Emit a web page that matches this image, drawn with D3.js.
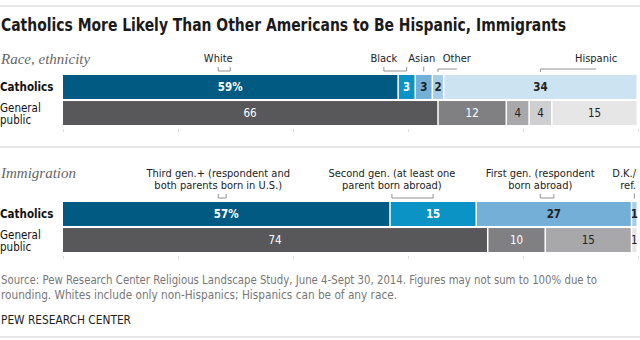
<!DOCTYPE html>
<html lang="en">
<head>
<meta charset="UTF-8">
<title>Catholics More Likely Than Other Americans to Be Hispanic, Immigrants</title>
<style>
  body { margin: 0; background: #fff; }
  svg text { font-family: "Liberation Sans Narrow", "DejaVu Sans Condensed", "Arial Narrow", sans-serif; }
  .title { font-size: 17.5px; font-weight: bold; fill: #1a1a1a; }
  .section { font-family: "Liberation Serif", "DejaVu Serif", Georgia, serif !important; font-style: italic; font-size: 15px; fill: #666; }
  .cat-label { font-size: 11px; fill: #222; }
  .row-label { font-size: 11.5px; fill: #111; }
  .val { font-size: 11.5px; }
  .note { font-size: 12px; fill: #777; }
  .brand { font-size: 12px; fill: #222; }
  .rule { stroke: #cfcfcf; stroke-width: 1.2; }
  .connector { fill: none; stroke: #777; stroke-width: 0.8; }
  .ticks .tick line { stroke: #ddd; }
  .ticks .domain { display: none; }
</style>
</head>
<body>
<div id="chart"></div>
<script src="https://cdnjs.cloudflare.com/ajax/libs/d3/7.8.5/d3.min.js"></script>
<script>
// rows
var rowNames = ["Catholics", "General public"];

// race, ethnicity (percent)
var raceCats = ["White", "Black", "Asian", "Other", "Hispanic"];
var raceCatholics = [59, 3, 3, 2, 34];
var raceGeneral = [66, 12, 4, 4, 15];
var raceLabelAt = [27, 55.8, 62.4, 68.5, 92.7]; // label anchors, percent units

// immigration (percent)
var immCats = [
  ["Third gen.+ (respondent and", "both parents born in U.S.)"],
  ["Second gen. (at least one", "parent born abroad)"],
  ["First gen. (respondent", "born abroad)"],
  ["D.K./", "ref."]
];
var immCatholics = [57, 15, 27, 1];
var immGeneral = [74, 10, 15, 1];
var immLabelAt = [27, 57.2, 83, 99.6];

var axisTicks = [0, 20, 40, 60, 80, 100];

var blues = ["#005a82", "#0a93c4", "#74afd7", "#a5cde8", "#cce3f2"];
var grays = ["#58585a", "#808083", "#a8a8aa", "#cfcfd1", "#e6e6e6"];
var darkFills = ["#005a82", "#0a93c4", "#58585a", "#808083"];

var width = 640, height = 340;
var left = 63, right = 638;

var svg = d3.select("#chart").append("svg")
  .attr("width", width)
  .attr("height", height);

// squeeze a text line to a set width (stands in for a condensed face)
function fit(sel, w) {
  return sel.attr("textLength", w).attr("lengthAdjust", "spacingAndGlyphs");
}

// percent axis shared by labels and ticks
var x100 = d3.scaleLinear().domain([0, 100]).range([left, right]);

svg.append("line").attr("class", "rule")
  .attr("x1", 0).attr("x2", width).attr("y1", 6).attr("y2", 6);

fit(svg.append("text").attr("class", "title")
  .attr("x", 1).attr("y", 31)
  .text("Catholics More Likely Than Other Americans to Be Hispanic, Immigrants"), 565);

function panel(opts) {
  var g = svg.append("g");
  var top = opts.top;

  var y = d3.scaleBand().domain(rowNames)
    .range([top, top + 50]).paddingInner(0.08);

  g.append("text").attr("class", "section")
    .attr("x", 1).attr("y", opts.headY)
    .text(opts.heading);

  var rows = [
    { name: rowNames[0], values: opts.catholics, colors: opts.catColors, bold: true },
    { name: rowNames[1], values: opts.general, colors: opts.genColors, bold: false }
  ];

  rows.forEach(function (row, ri) {
    var total = d3.sum(row.values);
    var x = d3.scaleLinear().domain([0, total]).range([left, right]);
    var cum = d3.cumsum(row.values);
    var segs = row.values.map(function (v, i) {
      return { v: v, x0: cum[i] - v, x1: cum[i], color: row.colors[i], first: i === 0 };
    });
    row.segs = segs;
    row.x = x;

    var rg = g.append("g");
    rg.selectAll("rect").data(segs).enter().append("rect")
      .attr("x", function (d) { return x(d.x0); })
      .attr("y", y(row.name))
      .attr("width", function (d) { return Math.max(0, x(d.x1) - x(d.x0) - 1.5); })
      .attr("height", y.bandwidth())
      .attr("fill", function (d) { return d.color; });

    rg.selectAll("text").data(segs).enter().append("text")
      .attr("class", "val")
      .attr("x", function (d) { return (x(d.x0) + x(d.x1)) / 2 - 0.75; })
      .attr("y", y(row.name) + y.bandwidth() / 2 + 4.2)
      .attr("text-anchor", "middle")
      .attr("font-weight", row.bold ? "bold" : "normal")
      .attr("fill", function (d) { return darkFills.indexOf(d.color) >= 0 ? "#fff" : "#222"; })
      .text(function (d) { return d.first && ri === 0 ? d.v + "%" : d.v; });

    var cy = y(row.name) + y.bandwidth() / 2;
    if (ri === 0) {
      g.append("text").attr("class", "row-label")
        .attr("x", 0).attr("y", cy + 4.2)
        .attr("font-weight", "bold")
        .text(row.name);
    } else {
      var words = row.name.split(" ");
      var t = g.append("text").attr("class", "row-label")
        .attr("x", 0).attr("y", cy - 1.5);
      t.append("tspan").attr("x", 0).text(words[0]);
      t.append("tspan").attr("x", 0).attr("dy", 12).text(words[1]);
    }
  });

  // category labels above the Catholics bar, with connectors to segments
  var catSegs = rows[0].segs, cx = rows[0].x;
  opts.labels.forEach(function (lines, i) {
    var lx = x100(opts.labelAt[i]);
    var sx = (cx(catSegs[i].x0) + cx(catSegs[i].x1)) / 2 - 0.75;
    var anchor = opts.labelAt[i] > 99 ? "end" : "middle";
    var tx = anchor === "end" ? right - 2 : lx;
    var t = g.append("text").attr("class", "cat-label")
      .attr("y", top - 13 - (lines.length - 1) * 12.5)
      .attr("text-anchor", anchor);
    lines.forEach(function (line, li) {
      t.append("tspan").attr("x", tx).attr("dy", li ? 12.5 : 0).text(line);
    });
    var path;
    if (Math.abs(lx - sx) < 3) {
      path = "M" + sx + "," + (top - 8.5) + "V" + (top - 3.5);
    } else if (lx > sx) {
      // label sits right of its segment: hook down to the segment
      path = "M" + lx + "," + (top - 6) + "H" + sx + "V" + (top - 3);
    } else {
      path = "M" + lx + "," + (top - 8) + "V" + (top - 4) + "H" + sx + "V" + (top - 8);
    }
    g.append("path").attr("class", "connector").attr("d", path);
  });

  // faint percent ticks under the bars
  g.append("g").attr("class", "ticks")
    .attr("transform", "translate(0," + (top + 54) + ")")
    .call(d3.axisBottom(x100).tickValues(axisTicks).tickSize(3).tickFormat(""));
}

panel({
  top: 75, headY: 64, heading: "Race, ethnicity",
  catholics: raceCatholics, general: raceGeneral,
  catColors: blues, genColors: grays,
  labels: raceCats.map(function (c) { return [c]; }), labelAt: raceLabelAt
});

svg.append("line").attr("class", "rule")
  .attr("x1", 0).attr("x2", width).attr("y1", 147).attr("y2", 147);

panel({
  top: 202, headY: 178, heading: "Immigration",
  catholics: immCatholics, general: immGeneral,
  catColors: blues.slice(0, 4), genColors: [grays[0], grays[1], grays[2], grays[4]],
  labels: immCats, labelAt: immLabelAt
});

fit(svg.append("text").attr("class", "note")
  .attr("x", 1).attr("y", 284)
  .text("Source: Pew Research Center Religious Landscape Study, June 4-Sept 30, 2014. Figures may not sum to 100% due to"), 596);
fit(svg.append("text").attr("class", "note")
  .attr("x", 1).attr("y", 299)
  .text("rounding. Whites include only non-Hispanics; Hispanics can be of any race."), 396);
fit(svg.append("text").attr("class", "brand")
  .attr("x", 1).attr("y", 324)
  .text("PEW RESEARCH CENTER"), 130);

svg.append("line").attr("class", "rule")
  .attr("x1", 0).attr("x2", width).attr("y1", 337).attr("y2", 337);
</script>
</body>
</html>
